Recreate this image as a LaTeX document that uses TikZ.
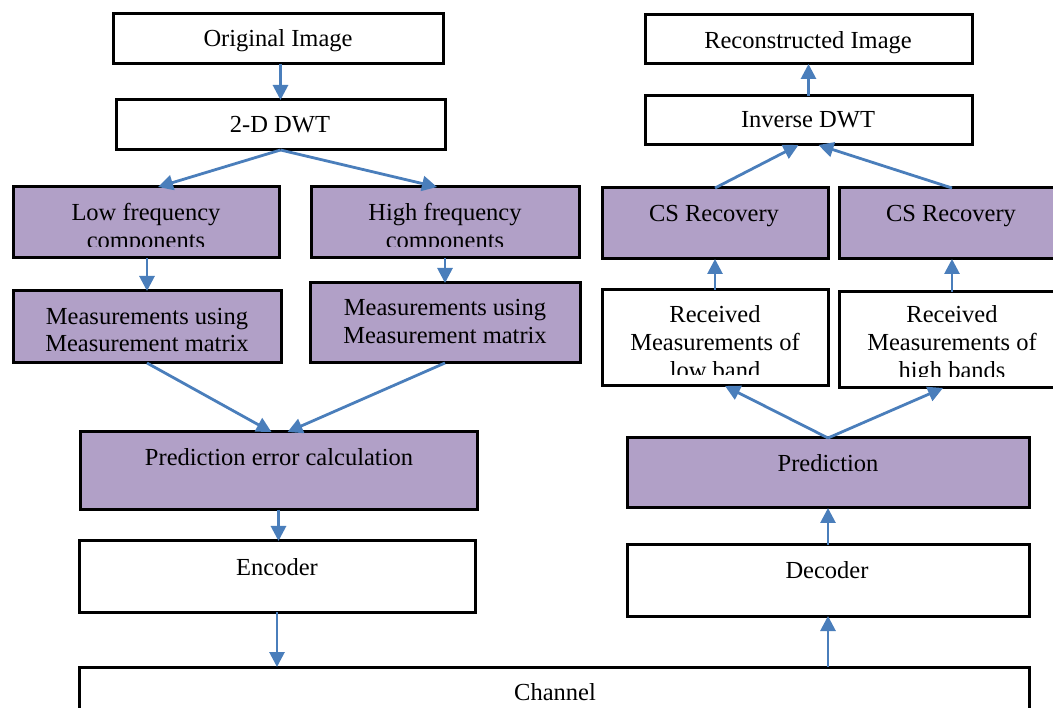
\documentclass[tikz,border=0pt]{standalone}
\usepackage{fontspec}
\setmainfont{Liberation Serif}
\usetikzlibrary{arrows.meta,calc}
\definecolor{boxpurple}{HTML}{B1A0C7}
\definecolor{arrowblue}{HTML}{4A7EBB}
\tikzset{
  box/.style={draw=black, line width=3pt, inner sep=0pt, outer sep=0pt, anchor=north west},
  pbox/.style={box, fill=boxpurple},
  wbox/.style={box, fill=white},
  txt/.style={font=\fontsize{24.5}{28}\selectfont, inner sep=0pt, anchor=base},
  arr/.style={draw=arrowblue, line width=2.8pt, -{Triangle[length=15pt,width=15pt]}},
}
\begin{document}
\begin{tikzpicture}[x=1pt,y=-1pt]
\useasboundingbox (0,0) rectangle (1053,708);
% ---------- left column ----------
\node[wbox, minimum width=330pt, minimum height=50pt] (orig) at (113,14) {};
\node[txt] (origt) at (278,47) {Original Image};
\node[wbox, minimum width=329pt, minimum height=50pt] (dwt) at (116,100) {};
\node[txt] (dwtt) at (280,133) {2-D DWT};
\node[pbox, minimum width=266pt, minimum height=71pt] (low) at (13,187) {};
\begin{scope}
  \clip (13,187) rectangle (279,247);
  \node[txt] (lowt1) at (146,221) {Low frequency};
  \node[txt] (lowt2) at (146,249) {components};
\end{scope}
\node[pbox, minimum width=268pt, minimum height=71pt] (high) at (311,187) {};
\begin{scope}
  \clip (311,187) rectangle (579,247);
  \node[txt] (hight1) at (445,221) {High frequency};
  \node[txt] (hight2) at (445,249) {components};
\end{scope}
\node[pbox, minimum width=268pt, minimum height=72pt] (lm) at (13,291) {};
\node[txt] (lmt1) at (147,325) {Measurements using};
\node[txt] (lmt2) at (147,352) {Measurement matrix};
\node[pbox, minimum width=270pt, minimum height=80pt] (hm) at (310,283) {};
\node[txt] (hmt1) at (445,316) {Measurements using};
\node[txt] (hmt2) at (445,344) {Measurement matrix};
\node[pbox, minimum width=397pt, minimum height=78pt] (pe) at (80,432) {};
\node[txt] (pet) at (279,466) {Prediction error calculation};
\node[wbox, minimum width=396pt, minimum height=71pt] (enc) at (79,541) {};
\node[txt] (enct) at (277,575) {Encoder};
\node[wbox, minimum width=950pt, minimum height=73pt] (chan) at (79,667) {};
\node[txt] (chant) at (555,700) {Channel};
% ---------- right column ----------
\node[wbox, minimum width=327pt, minimum height=49pt] (rec) at (645,15) {};
\node[txt] (rect) at (808,49) {Reconstructed Image};
\node[wbox, minimum width=327pt, minimum height=49pt] (idwt) at (645,96) {};
\node[txt] (idwtt) at (808,128) {Inverse DWT};
\node[pbox, minimum width=226pt, minimum height=71pt] (csl) at (602,188) {};
\node[txt] (cslt) at (714,222) {CS Recovery};
\node[pbox, minimum width=215pt, minimum height=71pt] (csr) at (839,188) {};
\node[txt] (csrt) at (951,222) {CS Recovery};
\node[wbox, minimum width=226pt, minimum height=96pt] (rl) at (602,290) {};
\begin{scope}
  \clip (602,290) rectangle (828,375);
  \node[txt] (rlt1) at (715,323) {Received};
  \node[txt] (rlt2) at (715,351) {Measurements of};
  \node[txt] (rlt3) at (715,379) {low band};
\end{scope}
\node[wbox, minimum width=226pt, minimum height=96pt] (rh) at (839,292) {};
\begin{scope}
  \clip (839,292) rectangle (1065,377);
  \node[txt] (rht1) at (952,323) {Received};
  \node[txt] (rht2) at (952,351) {Measurements of};
  \node[txt] (rht3) at (952,379) {high bands};
\end{scope}
\node[pbox, minimum width=402pt, minimum height=70pt] (pred) at (627,438) {};
\node[txt] (predt) at (828,472) {Prediction};
\node[wbox, minimum width=402pt, minimum height=71pt] (dec) at (627,545) {};
\node[txt] (dect) at (827,579) {Decoder};
% ---------- connectors ----------
\draw[arr] (dwt.north |- orig.south) -- (dwt.north);
\draw[arr] (dwt.south) -- ($(low.north)+(12,0)$);
\draw[arr] (dwt.south) -- ($(high.north)+(-8,0)$);
\draw[arr] (lm.north |- low.south) -- (lm.north);
\draw[arr] (hm.north |- high.south) -- (hm.north);
\draw[arr] (lm.south) -- ($(pe.north)+(-7,0)$);
\draw[arr] (hm.south) -- ($(pe.north)+(9,0)$);
\draw[arr] (pe.south) -- (pe.south |- enc.north);
\draw[arr] (enc.south) -- (enc.south |- chan.north);
\draw[arr] (dec.south |- chan.north) -- (dec.south);
\draw[arr] (dec.north) -- (pred.south);
\draw[arr] (pred.north) -- ($(rl.south)+(10,0)$);
\draw[arr] (pred.north) -- ($(rh.south)+(-9,0)$);
\draw[arr] (rl.north) -- (csl.south);
\draw[arr] (rh.north) -- (rh.north |- csr.south);
\draw[arr] (csl.north) -- ($(idwt.south)+(-10,0)$);
\draw[arr] (rh.north |- csr.north) -- ($(idwt.south)+(10,0)$);
\draw[arr] (idwt.north) -- (rec.south);
\end{tikzpicture}
\end{document}
